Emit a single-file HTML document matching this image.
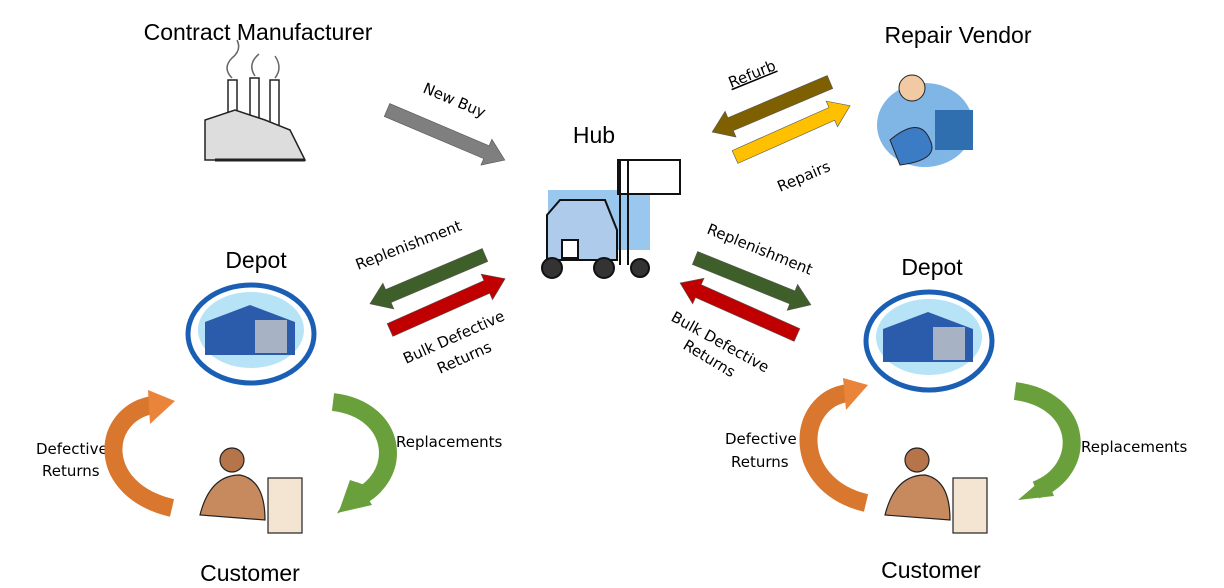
<!DOCTYPE html>
<html><head><meta charset="utf-8"><style>
body{margin:0;background:#fff;width:1224px;height:588px;overflow:hidden}
svg{display:block}
text{font-family:"Liberation Sans","DejaVu Sans",sans-serif;fill:#000}
.s{font-family:"DejaVu Sans","Liberation Sans",sans-serif;font-size:15px}
</style></head><body>
<svg width="1224" height="588" viewBox="0 0 1224 588">
<!-- Titles -->
<text x="258" y="40" font-size="23" text-anchor="middle">Contract Manufacturer</text>
<text x="958" y="43" font-size="23" text-anchor="middle">Repair Vendor</text>
<text x="594" y="143" font-size="23" text-anchor="middle">Hub</text>
<text x="256" y="268" font-size="23" text-anchor="middle">Depot</text>
<text x="932" y="275" font-size="23" text-anchor="middle">Depot</text>
<text x="250" y="581" font-size="23" text-anchor="middle">Customer</text>
<text x="931" y="578" font-size="23" text-anchor="middle">Customer</text>

<g stroke="#555" stroke-width="0.6">
<g transform="translate(387,110) rotate(23)"><path fill="#7f7f7f" d="M0,-7 L108,-7 L108,-14 L128,0 L108,14 L108,7 L0,7Z"/></g>
<g transform="translate(830,82) rotate(157)"><path fill="#7f6000" d="M0,-7 L108,-7 L108,-14 L128,0 L108,14 L108,7 L0,7Z"/></g>
<g transform="translate(735,157) rotate(-24)"><path fill="#ffc000" d="M0,-7 L106,-7 L106,-14 L126,0 L106,14 L106,7 L0,7Z"/></g>
<g transform="translate(485,255) rotate(157)"><path fill="#3f5f2a" d="M0,-7 L105,-7 L105,-14 L125,0 L105,14 L105,7 L0,7Z"/></g>
<g transform="translate(390,330) rotate(-24)"><path fill="#c00000" d="M0,-7 L106,-7 L106,-14 L126,0 L106,14 L106,7 L0,7Z"/></g>
<g transform="translate(695,258) rotate(22)"><path fill="#3f5f2a" d="M0,-7 L105,-7 L105,-14 L125,0 L105,14 L105,7 L0,7Z"/></g>
<g transform="translate(797,335) rotate(204)"><path fill="#c00000" d="M0,-7 L108,-7 L108,-14 L128,0 L108,14 L108,7 L0,7Z"/></g>
</g>

<text class="s" transform="translate(422,92) rotate(23)">New Buy</text>
<text class="s" transform="translate(731,88) rotate(-22)" text-decoration="underline">Refurb</text>
<text class="s" transform="translate(780,192) rotate(-23)">Repairs</text>
<text class="s" transform="translate(358,270) rotate(-21)">Replenishment</text>
<text class="s" transform="translate(406,364) rotate(-24)">Bulk Defective</text>
<text class="s" transform="translate(440,374) rotate(-24)">Returns</text>
<text class="s" transform="translate(706,233) rotate(22)">Replenishment</text>
<text class="s" transform="translate(670,320) rotate(29)">Bulk Defective</text>
<text class="s" transform="translate(682,348) rotate(31)">Returns</text>
<text class="s" x="36" y="454">Defective</text>
<text class="s" x="42" y="476">Returns</text>
<text class="s" x="396" y="447">Replacements</text>
<text class="s" x="725" y="444">Defective</text>
<text class="s" x="731" y="467">Returns</text>
<text class="s" x="1081" y="452">Replacements</text>

<g fill="none" stroke-width="18">
<path d="M172,508 C95,490 100,415 152,405" stroke="#d9772e"/>
<path d="M333,402 C400,410 405,480 352,500" stroke="#6aa03c"/>
<path d="M866,503 C790,485 795,400 848,393" stroke="#d9772e"/>
<path d="M1015,391 C1085,400 1088,470 1036,490" stroke="#6aa03c"/>
</g>
<polygon points="148,390 175,401 150,424" fill="#e9843a"/>
<polygon points="365,485 338,514 350,480" fill="#6aa03c"/>
<polygon points="358,482 337,513 372,505" fill="#6aa03c"/>
<polygon points="843,378 868,385 846,410" fill="#e9843a"/>
<polygon points="1046,476 1018,500 1054,496" fill="#6aa03c"/>

<g stroke="#222" stroke-width="1.5" fill="#fff">
<rect x="228" y="80" width="9" height="55"/><rect x="250" y="78" width="9" height="55"/><rect x="270" y="80" width="9" height="55"/>
<path d="M205,160 L205,120 L235,110 L265,120 L290,130 L305,160Z" fill="#ddd"/>
<path d="M215,160 h90" stroke-width="3"/>
<path d="M232,78 q-10,-10 0,-20 q10,-8 5,-18 M255,76 q-8,-12 4,-22 M275,78 q8,-10 0,-22" fill="none" stroke="#666"/>
</g>
<g>
<ellipse cx="925" cy="125" rx="48" ry="42" fill="#7fb6e6"/>
<rect x="935" y="110" width="38" height="40" fill="#2f6fb0"/>
<circle cx="912" cy="88" r="13" fill="#f1c9a3" stroke="#222"/>
<path d="M890,140 q30,-25 40,0 q10,20 -30,25Z" fill="#3b7cc4" stroke="#222"/>
</g>
<g stroke="#111" stroke-width="2">
<rect x="548" y="190" width="102" height="60" fill="#99c7ee" stroke="none"/>
<rect x="618" y="160" width="62" height="34" fill="#fff"/>
<path d="M620,160 V265 M628,160 V265" />
<path d="M560,200 h45 l12,30 v30 h-70 v-45Z" fill="#aecbeb"/>
<rect x="562" y="240" width="16" height="18" fill="#fff"/>
<circle cx="552" cy="268" r="10" fill="#333"/><circle cx="604" cy="268" r="10" fill="#333"/><circle cx="640" cy="268" r="9" fill="#333"/>
</g>
<g>
<ellipse cx="251" cy="334" rx="63" ry="49" fill="#fff" stroke="#1a5fb4" stroke-width="5"/>
<ellipse cx="251" cy="330" rx="53" ry="38" fill="#b7e3f7"/>
<path d="M205,345 L205,322 L250,305 L295,322 L295,355 L205,355Z" fill="#2b5cab"/>
<rect x="255" y="320" width="32" height="33" fill="#a7b3c4"/>
<ellipse cx="929" cy="341" rx="63" ry="49" fill="#fff" stroke="#1a5fb4" stroke-width="5"/>
<ellipse cx="929" cy="337" rx="53" ry="38" fill="#b7e3f7"/>
<path d="M883,352 L883,329 L928,312 L973,329 L973,362 L883,362Z" fill="#2b5cab"/>
<rect x="933" y="327" width="32" height="33" fill="#a7b3c4"/>
</g>
<g stroke="#222" stroke-width="1.2">
<circle cx="232" cy="460" r="12" fill="#b5744a"/>
<path d="M200,515 q10,-40 40,-40 q25,5 25,45Z" fill="#c78a5e"/>
<rect x="268" y="478" width="34" height="55" fill="#f4e4d2"/>
<circle cx="917" cy="460" r="12" fill="#b5744a"/>
<path d="M885,515 q10,-40 40,-40 q25,5 25,45Z" fill="#c78a5e"/>
<rect x="953" y="478" width="34" height="55" fill="#f4e4d2"/>
</g>
</svg>
</body></html>
